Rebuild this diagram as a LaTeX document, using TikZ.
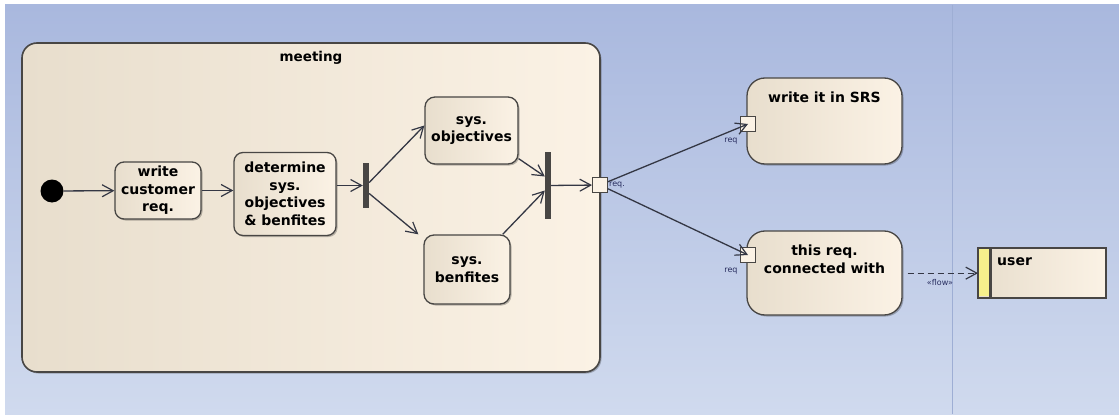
\documentclass[tikz,border=0pt]{standalone}
\usepackage{fontspec}
\setmainfont{DejaVu Sans}
\usetikzlibrary{arrows.meta,shadows}
\definecolor{bgtop}{RGB}{169,184,222}
\definecolor{bgbot}{RGB}{208,218,238}
\definecolor{creamL}{RGB}{232,222,205}
\definecolor{creamR}{RGB}{251,242,229}
\definecolor{edge}{RGB}{72,70,68}
\definecolor{conn}{RGB}{52,55,68}
\definecolor{lbl}{RGB}{40,45,95}
\definecolor{sepline}{RGB}{158,174,212}
\definecolor{ystripe}{RGB}{246,240,140}
\begin{document}
\begin{tikzpicture}[x=1pt,y=-1pt,
  shad/.style={drop shadow={shadow xshift=1.5pt,shadow yshift=-1.5pt,fill=black,opacity=0.25}},
  act/.style={draw=edge,line width=1.3pt,rounded corners=9pt,left color=creamL,right color=creamR,
    align=center,font=\fontsize{14}{17.5}\selectfont\bfseries,inner sep=0pt,shad},
  bigact/.style={act,rounded corners=18pt,minimum width=155pt},
  bar/.style={fill=edge,draw=none,inner sep=0pt,minimum width=6pt},
  port/.style={draw=edge,line width=1pt,fill=creamR,inner sep=0pt,minimum size=15pt},
  portlbl/.style={font=\fontsize{8}{9}\selectfont,text=lbl,inner sep=1pt},
  flowarr/.style={draw=conn,line width=1.3pt,-{Straight Barb[length=11pt,width=12pt,line width=1.2pt]}},
  every label/.style={font=\fontsize{14}{17.5}\selectfont\bfseries,align=center}]
% background
\fill[white] (0,0) rectangle (1119,414);
\shade[top color=bgtop,bottom color=bgbot] (5,5) rectangle (1119,414);
\draw[sepline,line width=0.8pt] (952,5) -- (952,414);
% meeting frame
\node[draw=edge,line width=1.6pt,rounded corners=15pt,left color=creamL,right color=creamR,
  minimum width=578pt,minimum height=329pt,inner sep=0pt,shad,
  label={[anchor=north,yshift=-6pt,font=\fontsize{13.5}{16}\selectfont\bfseries]north:meeting}]
  (meet) at (311,207.5) {};
% nodes inside
\node[circle,fill=black,minimum size=23pt,inner sep=0pt] (init) at (52,191) {};
\node[act,minimum width=86pt,minimum height=57pt] (wc) at (158,190.5) {write\\customer\\req.};
\node[act,minimum width=102pt,minimum height=83pt] (det) at (285,194) {determine\\sys.\\objectives\\\& benfites};
\node[bar,minimum height=45pt] (f1) at (366,185.5) {};
\node[act,rounded corners=10pt,minimum width=93pt,minimum height=67pt] (so) at (471.5,130.5) {sys.\\objectives};
\node[act,rounded corners=10pt,minimum width=86pt,minimum height=69pt] (sb) at (467,269.5) {sys.\\benfites};
\node[bar,minimum height=67pt] (f2) at (548,185.5) {};
\node[port] (p0) at (600,185) {};
\node[portlbl,anchor=west] (p0l) at (p0.east) {req.};
% right side
\node[bigact,minimum height=86pt,
  label={[anchor=north,yshift=-11pt]north:write it in SRS}] (srs) at (824.5,121) {};
\node[port] (q1) at (748,124) {};
\node[portlbl] (q1l) at (731,141) {req};
\node[bigact,minimum height=84pt,
  label={[anchor=north,yshift=-11pt]north:this req.\\connected with}] (tr) at (824.5,273) {};
\node[port] (q2) at (748,255) {};
\node[portlbl] (q2l) at (731,271) {req};
% user
\node[draw=edge,line width=1.3pt,left color=creamL,right color=creamR,minimum width=127pt,
  minimum height=49pt,inner sep=0pt,anchor=north west,shad] (user) at (978,248) {};
\fill[ystripe] ([shift={(0.7pt,-0.7pt)}]user.north west) rectangle (989,296.3);
\fill[edge] (988.5,248) rectangle (992,297);
\draw[edge,line width=1.3pt] (user.north west) rectangle (user.south east);
\node[anchor=west,font=\fontsize{14}{17}\selectfont\bfseries,inner sep=0pt] (ut) at (997,262) {user};
% connectors
\draw[flowarr] (init) -- (wc);
\draw[flowarr] (wc) -- (det.west |- wc.east);
\draw[flowarr] (det.east |- f1) -- (f1);
\draw[flowarr] ([yshift=3pt]f1.east) -- ([yshift=5pt]so.west);
\draw[flowarr] ([yshift=-8pt]f1.east) -- ([xshift=-5pt]sb.north west);
\draw[flowarr] ([yshift=6pt]so.south east) -- ([yshift=9pt]f2.west);
\draw[flowarr] ([xshift=-8pt]sb.north east) -- ([yshift=-5pt]f2.west);
\draw[flowarr] (f2) -- (p0);
\draw[flowarr] (p0) -- (q1.center);
\draw[flowarr] (p0) -- (q2.center);
\draw[flowarr,dash pattern=on 6pt off 4pt,shorten <=5pt] (tr.east |- user.west) -- (user.west);
\node[font=\fontsize{8}{9}\selectfont,text=lbl] (fl) at (940,283) {«flow»};
\end{tikzpicture}
\end{document}
